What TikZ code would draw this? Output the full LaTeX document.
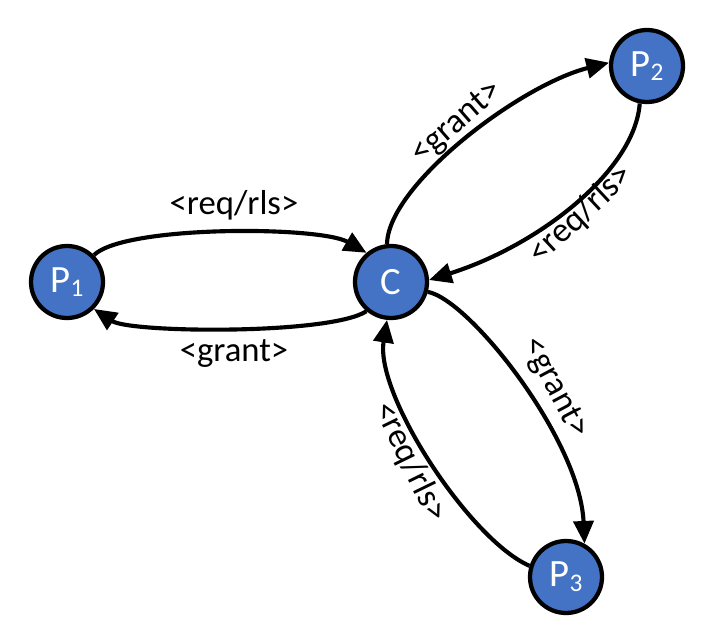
\documentclass[tikz,border=0pt]{standalone}
\usepackage{fontspec}
\setmainfont{Carlito}
\usetikzlibrary{arrows.meta}
\definecolor{nodeblue}{HTML}{4472C4}
% lowered index digit inside a process name
\newcommand{\procidx}[1]{\raisebox{-3.5pt}{\fontsize{19}{21}\selectfont #1}}
\begin{document}
\begin{tikzpicture}[x=0.75pt,y=-0.75pt,
  proc/.style={circle,draw=black,line width=3.2pt,fill=nodeblue,minimum size=54pt,
    inner sep=0pt,text=white,font=\fontsize{29}{33}\selectfont},
  link/.style={line width=3.1pt,-{Triangle[length=17pt,width=15pt]}},
  lbl/.style={font=\fontsize{26}{30}\selectfont,inner sep=0pt}]
\useasboundingbox (0,0) rectangle (716,634);

% processes and coordinator
\node[proc] (P1) at (67,282) {P\procidx{1}};
\node[proc] (C)  at (391,282) {C};
\node[proc] (P2) at (647,66) {P\procidx{2}};
\node[proc] (P3) at (566,577) {P\procidx{3}};

% P1 <-> C
\draw[link] (P1.45) .. controls (125,225) and (320,226) .. (C.130);
\draw[link] (C.230) .. controls (330,335) and (130,333) .. (P1.-45);

% C <-> P2
\draw[link] (C.96) .. controls (388,185) and (520,85) .. (P2.175);
\draw[link] (P2.259) .. controls (635,170) and (540,245) .. (C.3);

% C <-> P3
\draw[link] (C.-15) .. controls (470,300) and (580,440) .. (P3.61);
\draw[link] (P3.163) .. controls (470,540) and (375,395) .. (C.264);

% message labels
\node[lbl] (l1) at (234,205) {<req/rls>};
\node[lbl] (l2) at (234,354) {<grant>};
\node[lbl,rotate=41] (l3) at (457,123) {<grant>};
\node[lbl,rotate=43] (l4) at (581,215) {<req/rls>};
\node[lbl,rotate=-62] (l5) at (555,388) {<grant>};
\node[lbl,rotate=-64] (l6) at (410,462) {<req/rls>};
\end{tikzpicture}
\end{document}
